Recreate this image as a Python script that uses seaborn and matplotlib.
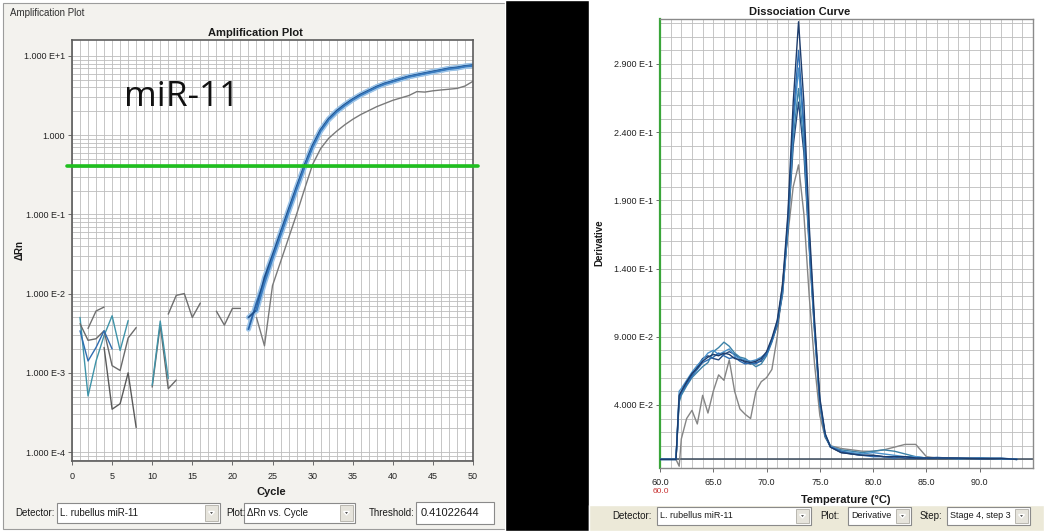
import numpy as np
import pandas as pd
import matplotlib
matplotlib.use("Agg")
import matplotlib.pyplot as plt
from matplotlib.patches import Rectangle, Polygon
from matplotlib.ticker import FixedLocator, FixedFormatter, LogLocator, MultipleLocator, NullFormatter
import seaborn as sns

# ---------------- amplification data (delta Rn per cycle) ----------------
cycles = list(range(1, 51))
nan = np.nan

blue_a = [nan] * 21 + [0.00355, 0.00759, 0.0148, 0.0288, 0.0562, 0.110, 0.214, 0.407, 0.724,
                       1.148, 1.585, 1.995, 2.399, 2.818, 3.236, 3.631, 4.074, 4.467, 4.786,
                       5.129, 5.495, 5.754, 6.026, 6.310, 6.607, 6.918, 7.079, 7.413, 7.586]
blue_b = [nan] * 21 + [0.0050, 0.0062, 0.0160, 0.0305, 0.0590, 0.115, 0.222, 0.420, 0.745,
                       1.17, 1.61, 2.03, 2.43, 2.85, 3.27, 3.66, 4.10, 4.50, 4.82,
                       5.16, 5.52, 5.80, 6.07, 6.36, 6.66, 6.97, 7.16, 7.46, 7.65]
blue_c = [nan] * 22 + [0.0060, 0.0135, 0.0275, 0.0540, 0.106, 0.207, 0.395, 0.705,
                       1.12, 1.56, 1.96, 2.36, 2.78, 3.19, 3.59, 4.02, 4.42, 4.74,
                       5.08, 5.45, 5.71, 5.98, 6.26, 6.55, 6.86, 7.02, 7.35, 7.52]
gray_well = [nan] * 22 + [0.0050, 0.00219, 0.0126, 0.0251, 0.0501, 0.100, 0.209, 0.427,
                          0.676, 0.912, 1.122, 1.349, 1.585, 1.820, 2.042, 2.291, 2.512, 2.754,
                          2.951, 3.162, 3.548, 3.50, 3.63, 3.72, 3.80, 3.89, 4.17, 4.79]

# early-cycle baseline readings (gaps where delta Rn is not positive)
base_cycles = list(range(1, 25))
noise_1 = [0.0050, 0.00051, 0.00141, 0.00295, 0.00525, 0.00191, 0.00457] + [nan] * 17
noise_2 = [0.00417, 0.00257, 0.00269, 0.00339, 0.00123, 0.00107, 0.00275, 0.00372] + [nan] * 16
noise_3 = [nan, 0.00363, 0.00603, 0.00676] + [nan] * 20
noise_4 = [0.00339, 0.00141, 0.00209, 0.00339, 0.0020] + [nan] * 19
noise_5 = [nan, nan, nan, 0.00209, 0.000347, 0.000407, 0.0010, 0.000204] + [nan] * 16
noise_6 = [nan] * 9 + [0.00066, 0.0040, 0.00063, 0.00081] + [nan] * 11
noise_7 = [nan] * 9 + [0.00070, 0.0045, 0.00085] + [nan] * 12
noise_8 = [nan] * 11 + [0.0055, 0.0095, 0.0100, 0.0050, 0.0076] + [nan] * 8
noise_9 = [nan] * 17 + [0.0060, 0.0040, 0.0065, 0.0065] + [nan] * 3

threshold = 0.41022644

# ---------------- dissociation data (derivative vs temperature) ----------------
temps = [60.0, 61.5, 61.8, 62.0, 62.5, 63.0, 63.5, 64.0, 64.5, 65.0, 65.5, 66.0, 66.5, 67.0,
         67.5, 68.0, 68.5, 69.0, 69.5, 70.0, 70.5, 71.0, 71.5, 72.0, 72.5, 73.0, 73.5, 74.0,
         74.5, 75.0, 75.5, 76.0, 77.0, 78.0, 79.0, 80.0, 81.0, 82.0, 83.0, 84.0, 85.0, 86.0,
         88.0, 90.0, 92.0, 93.5]
melt_1 = [0, 0, 0.047, 0.050, 0.057, 0.063, 0.067, 0.072, 0.075, 0.077, 0.076, 0.078, 0.077, 0.074,
          0.073, 0.072, 0.071, 0.072, 0.074, 0.079, 0.089, 0.102, 0.128, 0.180, 0.262, 0.321, 0.262,
          0.172, 0.102, 0.045, 0.019, 0.009, 0.005, 0.004, 0.003, 0.003, 0.002, 0.002, 0.002, 0.001,
          0.001, 0.001, 0.001, 0.0005, 0.0008, 0.0]
melt_2 = [0, 0, 0.044, 0.049, 0.055, 0.061, 0.066, 0.071, 0.073, 0.075, 0.078, 0.076, 0.074, 0.075,
          0.072, 0.070, 0.071, 0.070, 0.073, 0.077, 0.087, 0.100, 0.126, 0.176, 0.250, 0.300, 0.245,
          0.165, 0.098, 0.043, 0.018, 0.009, 0.006, 0.004, 0.003, 0.002, 0.002, 0.001, 0.002, 0.001,
          0.001, 0.0015, 0.0005, 0.001, 0.0005, 0.0]
melt_3 = [0, 0, 0.050, 0.052, 0.058, 0.064, 0.069, 0.073, 0.078, 0.080, 0.077, 0.079, 0.081, 0.076,
          0.074, 0.073, 0.072, 0.073, 0.075, 0.078, 0.088, 0.101, 0.124, 0.172, 0.244, 0.287, 0.240,
          0.160, 0.097, 0.042, 0.018, 0.010, 0.006, 0.005, 0.004, 0.005, 0.004, 0.003, 0.002, 0.002,
          0.001, 0.001, 0.001, 0.0005, 0.001, 0.0]
melt_4 = [0, 0, 0.042, 0.047, 0.054, 0.060, 0.064, 0.068, 0.071, 0.079, 0.082, 0.086, 0.083, 0.078,
          0.075, 0.074, 0.071, 0.068, 0.070, 0.076, 0.086, 0.099, 0.122, 0.170, 0.236, 0.272, 0.232,
          0.158, 0.095, 0.041, 0.017, 0.009, 0.007, 0.006, 0.005, 0.006, 0.007, 0.006, 0.004, 0.002,
          0.001, 0.001, 0.0005, 0.001, 0.0005, 0.0]
melt_5 = [0, 0, 0.046, 0.049, 0.056, 0.062, 0.068, 0.074, 0.076, 0.074, 0.073, 0.077, 0.079, 0.077,
          0.074, 0.071, 0.070, 0.071, 0.072, 0.078, 0.087, 0.098, 0.121, 0.168, 0.230, 0.262, 0.225,
          0.155, 0.094, 0.040, 0.017, 0.009, 0.005, 0.004, 0.003, 0.003, 0.002, 0.002, 0.001, 0.001,
          0.001, 0.001, 0.001, 0.0005, 0.0005, 0.0]
melt_6 = [0, 0, -0.005, 0.015, 0.030, 0.036, 0.026, 0.047, 0.034, 0.050, 0.062, 0.058, 0.073, 0.050,
          0.037, 0.033, 0.030, 0.050, 0.057, 0.060, 0.066, 0.090, 0.130, 0.165, 0.200, 0.216, 0.180,
          0.120, 0.070, 0.032, 0.016, 0.010, 0.008, 0.007, 0.006, 0.006, 0.007, 0.009, 0.011, 0.011,
          0.002, 0.001, 0.0005, 0.001, 0.0005, 0.0]

amp_yticks = [1e-4, 1e-3, 1e-2, 1e-1, 1.0, 10.0]
amp_ylabels = ["1.000 E-4", "1.000 E-3", "1.000 E-2", "1.000 E-1", "1.000", "1.000 E+1"]
amp_xticks = [0, 5, 10, 15, 20, 25, 30, 35, 40, 45, 50]
melt_xticks = [60, 65, 70, 75, 80, 85, 90]
melt_xlabels = ["60.0", "65.0", "70.0", "75.0", "80.0", "85.0", "90.0"]
melt_yticks = [0.04, 0.09, 0.14, 0.19, 0.24, 0.29]
melt_ylabels = ["4.000 E-2", "9.000 E-2", "1.400 E-1", "1.900 E-1", "2.400 E-1", "2.900 E-1"]

# ---------------- figure ----------------
W, H = 1044, 531
sns.set_theme(style="white")
plt.rcParams['font.family'] = ['Liberation Sans', 'DejaVu Sans']

fig = plt.figure(figsize=(W / 100, H / 100), dpi=100)
fig.patch.set_facecolor('white')


def fx(x):
    return x / W


def fy(y):
    return 1 - y / H


def box(x0, y0, x1, y1, z=-5, **kw):
    r = Rectangle((fx(x0), fy(y1)), (x1 - x0) / W, (y1 - y0) / H,
                  transform=fig.transFigure, zorder=z, **kw)
    fig.add_artist(r)
    return r


def label(x, y, s, size=7, **kw):
    kw.setdefault('ha', 'left')
    kw.setdefault('va', 'center')
    kw.setdefault('color', '#1a1a1a')
    return fig.text(fx(x), fy(y), s, fontsize=size, zorder=6, **kw)


def combo(x0, y0, x1, y1, text, size=7):
    box(x0, y0, x1, y1, z=5, facecolor='white', edgecolor='#8a8a8a', lw=0.8)
    bx0 = x1 - 15
    box(bx0, y0 + 2, x1 - 2, y1 - 2, z=5, facecolor='#e6e4dc', edgecolor='#b0aea6', lw=0.6)
    cx, cy = (bx0 + x1 - 2) / 2, (y0 + y1) / 2
    tri = Polygon([(fx(cx - 3), fy(cy - 1.5)), (fx(cx + 3), fy(cy - 1.5)), (fx(cx), fy(cy + 2))],
                  closed=True, transform=fig.transFigure, facecolor='#333333', zorder=7)
    fig.add_artist(tri)
    label(x0 + 3, (y0 + y1) / 2, text, size=size)


# window backgrounds
box(3, 3, 505, 529, facecolor='#f3f2ee', edgecolor='#9c9c9c', lw=0.8)
box(505, 0, 589, 531, facecolor='black')
box(589, 505, 1044, 531, facecolor='#ece9d8')

grid_color = '#bdbdbd'

# ---------------- amplification plot ----------------
ax1 = fig.add_axes([fx(72), fy(461), 401 / W, 421 / H])
ax1.set_facecolor('white')
ax1.set_yscale('log')


def draw_segments(ax, xs, ys, color, lw, zorder=2):
    xs = np.asarray(xs, dtype=float)
    ys = np.asarray(ys, dtype=float)
    ok = ~np.isnan(ys)
    start = None
    for i in range(len(ys) + 1):
        good = i < len(ys) and ok[i]
        if good and start is None:
            start = i
        elif not good and start is not None:
            if i - start >= 2:
                seg = pd.DataFrame({'x': xs[start:i], 'y': ys[start:i]})
                sns.lineplot(data=seg, x='x', y='y', ax=ax, color=color, lw=lw,
                             estimator=None, sort=False, zorder=zorder)
            start = None


noise_sets = [(noise_1, '#3f93a8'), (noise_2, '#6a6a6a'), (noise_3, '#707070'),
              (noise_4, '#2f6db0'), (noise_5, '#5a5a5a'), (noise_6, '#6a6a6a'),
              (noise_7, '#3f93a8'), (noise_8, '#6e6e6e'), (noise_9, '#6e6e6e')]
for vals, col in noise_sets:
    draw_segments(ax1, base_cycles, vals, col, 1.0)

draw_segments(ax1, cycles, gray_well, '#7a7a7a', 1.0)
for vals in (blue_a, blue_b, blue_c):
    draw_segments(ax1, cycles, vals, '#9cc4e8', 3.6, zorder=2)
for vals, col in ((blue_a, '#2a64a8'), (blue_b, '#1f4f8a'), (blue_c, '#3a7cc0')):
    draw_segments(ax1, cycles, vals, col, 1.3, zorder=2)

ax1.axhline(threshold, xmin=-0.012, xmax=1.012, color='#1fbf1f', lw=2.6, clip_on=False, zorder=4)

ax1.set_xlim(0, 50)
ax1.set_ylim(7.7e-5, 15.9)
ax1.xaxis.set_major_locator(FixedLocator(amp_xticks))
ax1.xaxis.set_minor_locator(MultipleLocator(1))
ax1.yaxis.set_major_locator(FixedLocator(amp_yticks))
ax1.yaxis.set_major_formatter(FixedFormatter(amp_ylabels))
ax1.yaxis.set_minor_locator(LogLocator(base=10, subs=range(2, 10), numticks=20))
ax1.yaxis.set_minor_formatter(NullFormatter())
ax1.grid(True, which='both', color=grid_color, lw=0.6)
ax1.set_axisbelow(True)
ax1.tick_params(which='major', direction='out', length=3, width=0.6, color='#555555',
                labelsize=6.5, labelcolor='#222222', pad=2, left=True, bottom=True)
ax1.tick_params(axis='x', which='major', pad=5)
ax1.tick_params(which='minor', length=0)
ax1.set_xlabel('')
ax1.set_ylabel('')
for side, sp in ax1.spines.items():
    sp.set_color('#5c5c5c')
    sp.set_linewidth(1.2)

label(10, 13, 'Amplification Plot', size=7, color='#303030')
label(255, 33, 'Amplification Plot', size=8, ha='center', fontweight='bold')
label(182, 97, 'miR-11', size=25.5, ha='center', family=['Open Sans', 'DejaVu Sans'], color='#111111')
label(271, 492, 'Cycle', size=8, ha='center', fontweight='bold')
label(20, 250, 'ΔRn', size=7, ha='center', fontweight='bold', rotation=90)

# left control strip
label(15, 513, 'Detector:', size=7)
combo(57, 503, 220, 523, 'L. rubellus miR-11')
label(226, 513, 'Plot:', size=7)
combo(244, 503, 355, 523, 'ΔRn vs. Cycle')
label(369, 513, 'Threshold:', size=7)
box(416, 502, 494, 524, z=5, facecolor='white', edgecolor='#8a8a8a', lw=0.8)
label(421, 513, f'{threshold:.8f}', size=8)

# ---------------- dissociation curve ----------------
ax2 = fig.add_axes([fx(660), fy(468), 373 / W, 449 / H])
ax2.set_facecolor('white')
ax2.axhline(0, color='#3b4a5c', lw=1.1, zorder=2)

melt_sets = [(melt_6, '#858585'), (melt_5, '#24487e'), (melt_4, '#3c82a8'),
             (melt_3, '#4a92cc'), (melt_2, '#2c6cb2'), (melt_1, '#1d3c6c')]
for vals, col in melt_sets:
    df = pd.DataFrame({'temp': temps, 'deriv': vals})
    sns.lineplot(data=df, x='temp', y='deriv', ax=ax2, color=col, lw=1.0,
                 estimator=None, sort=False, zorder=3)

ax2.set_xlim(60, 95)
ax2.set_ylim(-0.0063, 0.323)
ax2.xaxis.set_major_locator(FixedLocator(melt_xticks))
ax2.xaxis.set_major_formatter(FixedFormatter(melt_xlabels))
ax2.xaxis.set_minor_locator(MultipleLocator(1))
ax2.yaxis.set_major_locator(FixedLocator(melt_yticks))
ax2.yaxis.set_major_formatter(FixedFormatter(melt_ylabels))
ax2.yaxis.set_minor_locator(MultipleLocator(0.01))
ax2.grid(True, which='both', color=grid_color, lw=0.6)
ax2.set_axisbelow(True)
ax2.tick_params(which='major', direction='out', length=3, width=0.6, color='#555555',
                labelsize=6.5, labelcolor='#222222', pad=2, left=True, bottom=True)
ax2.tick_params(axis='x', which='major', pad=4.5)
ax2.tick_params(which='minor', length=0)
ax2.set_xlabel('')
ax2.set_ylabel('')
for side, sp in ax2.spines.items():
    sp.set_color('#8a8a8a')
    sp.set_linewidth(1.0)
ax2.spines['left'].set_color('#3aa63a')
ax2.spines['left'].set_linewidth(1.6)

label(800, 12, 'Dissociation Curve', size=8, ha='center', fontweight='bold')
label(846, 500, 'Temperature (°C)', size=8, ha='center', fontweight='bold')
label(599, 243, 'Derivative', size=7, ha='center', fontweight='bold', rotation=90)
label(661, 491.5, '60.0', size=6, ha='center', color='#c83232')

# right control strip
label(612, 516, 'Detector:', size=7)
combo(657, 507, 811, 525, 'L. rubellus miR-11', size=6.5)
label(820, 516, 'Plot:', size=7)
combo(848, 507, 911, 525, 'Derivative', size=6.5)
label(920, 516, 'Step:', size=7)
combo(947, 507, 1030, 525, 'Stage 4, step 3', size=6.5)

fig.savefig('out.png', dpi=100, facecolor=fig.get_facecolor())
